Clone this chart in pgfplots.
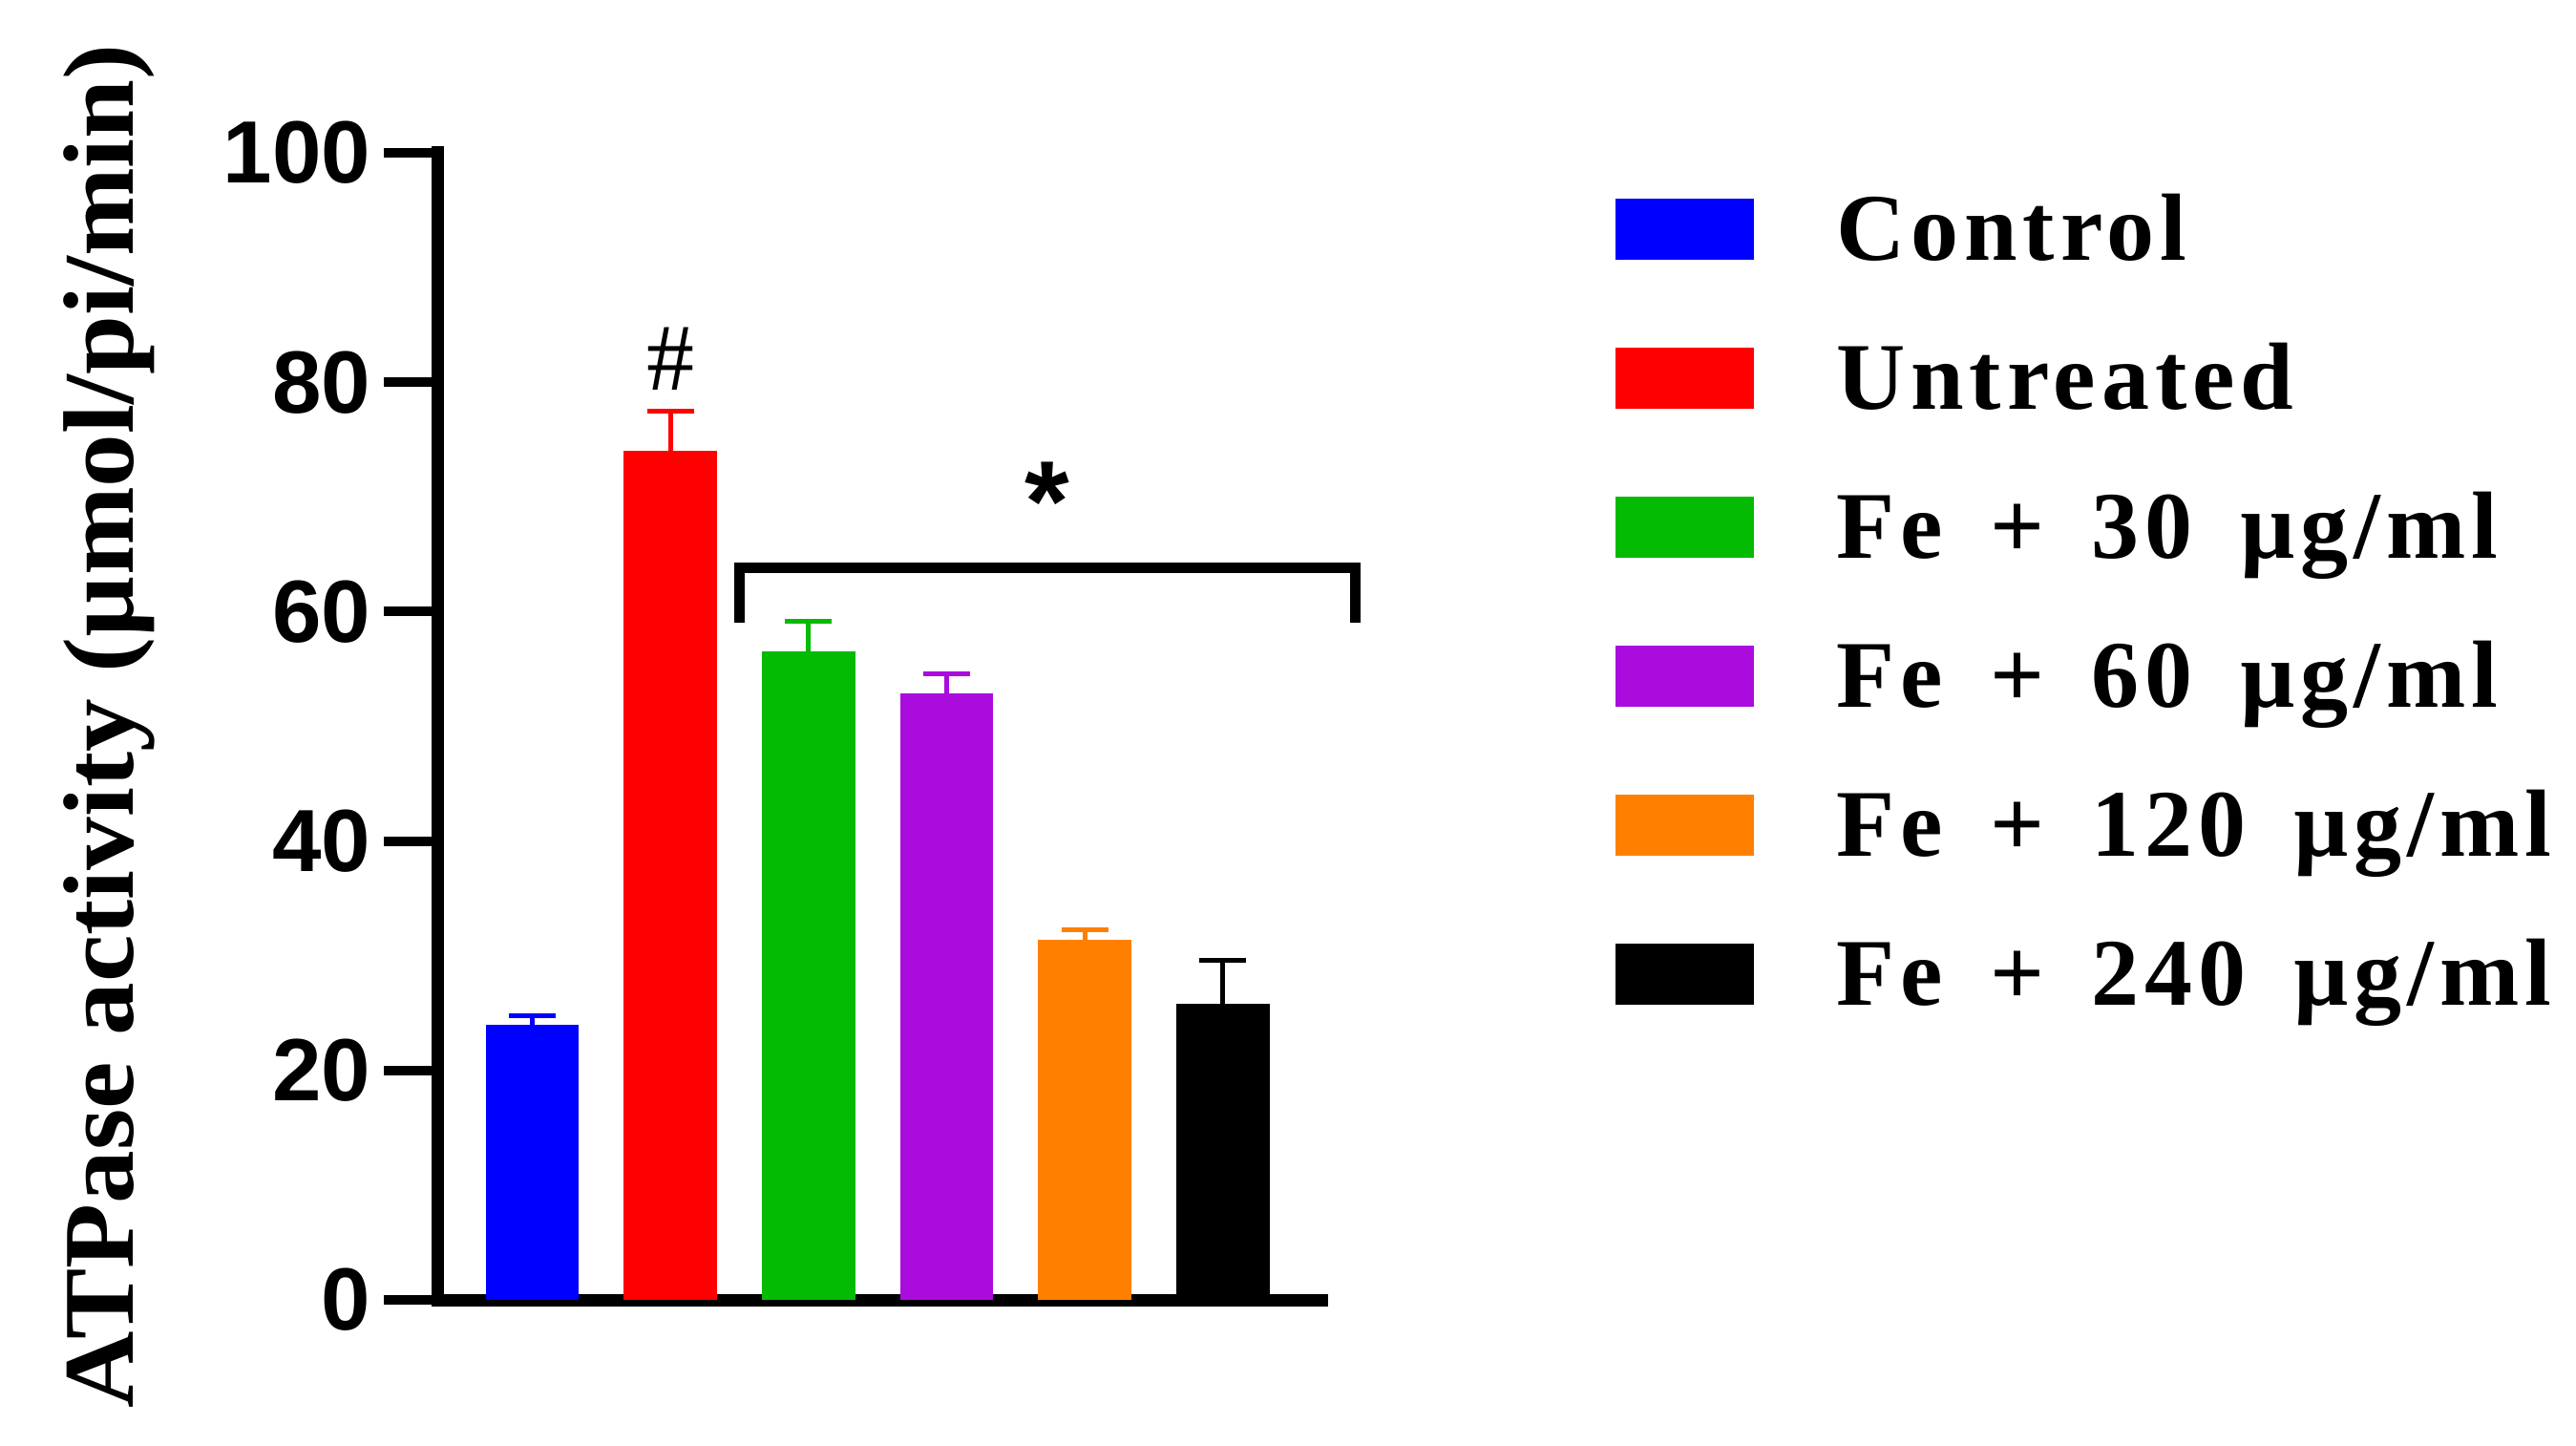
\documentclass[border=0pt]{standalone}
\usepackage{pgfplots}
\pgfplotsset{compat=1.18}
\usepackage{fontspec}
\setmainfont{Liberation Serif}
\newfontfamily\tickfont{Liberation Sans}
\newfontfamily\legfont[LetterSpace=6,WordSpace=1.6]{Liberation Serif}
\newfontfamily\labfont[FakeStretch=1.06]{Liberation Serif}
\newfontfamily\sansfont{Liberation Sans}

\definecolor{cblue}{RGB}{0,0,255}
\definecolor{cred}{RGB}{255,0,0}
\definecolor{cgreen}{RGB}{4,187,4}
\definecolor{cpurple}{RGB}{170,12,222}
\definecolor{corange}{RGB}{255,128,0}
\definecolor{cblack}{RGB}{0,0,0}

\pgfplotsset{
  onebar/.style={fill=#1, draw=none, bar shift=0pt,
    error bars/.cd, y dir=plus, y explicit,
    error bar style={line width=1pt, #1},
    error mark options={rotate=90, mark size=4.9pt, line width=1pt, #1}},
}

\begin{document}
\begin{tikzpicture}
  % page = whole reference frame (0.2pt per pixel)
  \path[use as bounding box] (-91.8pt,-30.4pt) rectangle (447.8pt,272.2pt);
  \begin{axis}[
      at={(0pt,0pt)}, anchor=south west,
      scale only axis, width=185.2pt, height=240.2pt,
      xmin=-0.68, xmax=5.72, ymin=0, ymax=100,
      axis x line*=bottom, axis y line*=left,
      axis line style={line width=2.6pt, line cap=rect},
      xtick=\empty, ytick={0,20,...,100},
      tick align=outside, major tick length=11.4pt,
      tick style={line width=2pt, black},
      /pgf/number format/assume math mode=true,
      yticklabel style={font=\tickfont\bfseries\fontsize{18.5}{20}\selectfont, inner sep=0pt, xshift=-2.6pt},
      ylabel={ATPase activity (µmol/pi/min)},
      every axis y label/.style={at={(rel axis cs:0,0.5)}, xshift=-69pt, rotate=90,
        anchor=center, font=\labfont\bfseries\fontsize{21}{24}\selectfont},
      ybar, bar width=0.675,
      clip=false,
      legend cell align=left,
      legend image code/.code={\fill[#1] (0pt,-4.4pt) rectangle (29pt,8.4pt);},
      legend style={at={(rel axis cs:1.3305,0.963)}, anchor=north west,
        draw=none, fill=none, inner sep=0pt, row sep=13.2pt,
        font=\legfont\bfseries\fontsize{20}{24}\selectfont,
        nodes={inner sep=0pt, text height=13.4pt, text depth=4.6pt},
        /tikz/every odd column/.append style={column sep=17.2pt}},
    ]
    \addplot[onebar=cblue]   coordinates {(0,24.0) +- (0,0.8)};
    \addplot[onebar=cred]    coordinates {(1,74.0) +- (0,3.5)};
    \addplot[onebar=cgreen]  coordinates {(2,56.5) +- (0,2.7)};
    \addplot[onebar=cpurple] coordinates {(3,52.9) +- (0,1.7)};
    \addplot[onebar=corange] coordinates {(4,31.4) +- (0,0.9)};
    \addplot[onebar=cblack]  coordinates {(5,25.8) +- (0,3.8)};
    \legend{Control, Untreated, Fe + 30 µg/ml, Fe + 60 µg/ml, Fe + 120 µg/ml, Fe + 240 µg/ml}

    \node[anchor=base, inner sep=0pt, font=\fontsize{20}{24}\selectfont] at (axis cs:1,79.3) {\#};
    \node[anchor=north, inner sep=0pt, font=\sansfont\bfseries\fontsize{24}{26}\selectfont] at (axis cs:3.73,73.1) {*};
    \draw[line width=2.2pt] (axis cs:1.50,59) |- (axis cs:5.96,63.8) -- (axis cs:5.96,59);
  \end{axis}
\end{tikzpicture}
\end{document}
